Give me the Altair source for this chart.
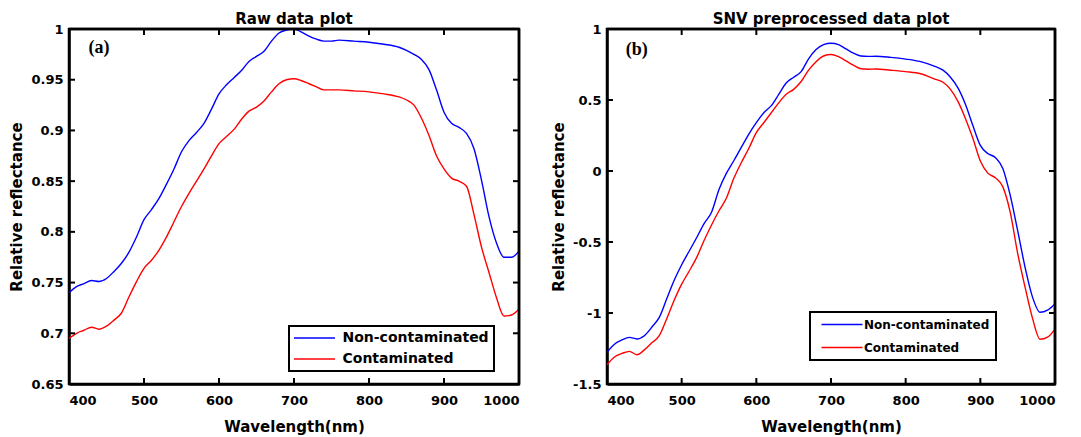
import altair as alt
import pandas as pd

# ---------------- data ----------------
wavelength = [400, 410, 420, 430, 440, 450, 460, 470, 480, 490,
              500, 510, 520, 530, 540, 550, 560, 570, 580, 590,
              600, 610, 620, 630, 640, 650, 660, 670, 680, 690,
              700, 710, 720, 730, 740, 750, 760,
              780, 800, 820, 840,
              850, 860, 870, 880, 890, 900, 910, 920, 930, 940,
              950, 960, 970, 980, 990, 1000]

raw_non = [0.740, 0.746, 0.749, 0.752, 0.751, 0.754, 0.761, 0.769, 0.780, 0.795,
           0.812, 0.822, 0.833, 0.847, 0.862, 0.879, 0.890, 0.898, 0.907, 0.921,
           0.936, 0.945, 0.952, 0.959, 0.968, 0.973, 0.978, 0.988, 0.996, 0.999,
           1.000, 0.997, 0.993, 0.990, 0.988, 0.988, 0.989,
           0.988, 0.987, 0.985, 0.982,
           0.979, 0.975, 0.970, 0.960, 0.940, 0.918, 0.907, 0.903, 0.897, 0.882,
           0.851, 0.815, 0.789, 0.775, 0.775, 0.781]

raw_con = [0.695, 0.700, 0.703, 0.706, 0.704, 0.707, 0.713, 0.720, 0.736, 0.751,
           0.764, 0.772, 0.782, 0.795, 0.810, 0.825, 0.838, 0.850, 0.862, 0.875,
           0.887, 0.894, 0.901, 0.911, 0.919, 0.923, 0.929, 0.938, 0.946, 0.950,
           0.951, 0.949, 0.946, 0.943, 0.940, 0.940, 0.940,
           0.939, 0.938, 0.936, 0.933,
           0.930, 0.925, 0.912, 0.895, 0.875, 0.862, 0.853, 0.850, 0.845, 0.817,
           0.785, 0.760, 0.735, 0.717, 0.718, 0.724]

snv_non = [-1.277, -1.22, -1.19, -1.172, -1.183, -1.16, -1.10, -1.031, -0.90, -0.77,
           -0.66, -0.565, -0.47, -0.37, -0.29, -0.13, -0.015, 0.074, 0.168, 0.26,
           0.34, 0.41, 0.46, 0.54, 0.62, 0.66, 0.70, 0.79, 0.855, 0.89,
           0.90, 0.89, 0.86, 0.83, 0.81, 0.807, 0.808,
           0.80, 0.788, 0.77, 0.735,
           0.71, 0.66, 0.585, 0.47, 0.32, 0.18, 0.123, 0.095, 0.02, -0.17,
           -0.42, -0.68, -0.89, -0.995, -0.98, -0.937]

snv_con = [-1.364, -1.31, -1.285, -1.27, -1.294, -1.26, -1.21, -1.16, -1.04, -0.91,
           -0.797, -0.706, -0.61, -0.49, -0.38, -0.28, -0.19, -0.05, 0.06, 0.16,
           0.27, 0.34, 0.41, 0.48, 0.54, 0.575, 0.63, 0.71, 0.77, 0.81,
           0.82, 0.805, 0.775, 0.745, 0.72, 0.717, 0.718,
           0.71, 0.70, 0.685, 0.645,
           0.625, 0.575, 0.49, 0.37, 0.23, 0.07, -0.015, -0.047, -0.11, -0.29,
           -0.58, -0.82, -1.04, -1.185, -1.17, -1.113]

series_names = ["Non-contaminated", "Contaminated"]
series_colors = ["#0000FF", "#FF0000"]

x_ticks = [400, 500, 600, 700, 800, 900, 1000]
raw_y_ticks = [0.65, 0.7, 0.75, 0.8, 0.85, 0.9, 0.95, 1]
snv_y_ticks = [-1.5, -1, -0.5, 0, 0.5, 1]

panel_titles = ["Raw data plot", "SNV preprocessed data plot"]
panel_tags = ["(a)", "(b)"]
tag_x = [440, 440]
tag_y = [0.981, 0.855]

FONT = "DejaVu Sans"
H = 355
TICK = 6
INK = "black"


def panel(title, tag, tx, ty, non, con, ydom, yticks, W, leg):
    n = len(wavelength)
    df = pd.DataFrame({
        "Wavelength": wavelength + wavelength,
        "value": non + con,
        "series": [series_names[0]] * n + [series_names[1]] * n,
    })
    xs = alt.Scale(domain=[400, 1000], nice=False, zero=False)
    ys = alt.Scale(domain=ydom, nice=False, zero=False)

    legend = alt.Legend(
        title=None, orient="none", legendX=leg["x"], legendY=leg["y"],
        direction="vertical",
        symbolType=leg["path"], symbolSize=leg["size"],
        symbolStrokeWidth=1.5, symbolOffset=leg["so"],
        labelOffset=leg["lo"], labelFont=FONT, labelFontSize=leg["fs"],
        labelFontWeight="bold", labelColor="black",
        rowPadding=leg["rp"], padding=leg["pad"],
        strokeColor="black", fillColor="white",
    )

    lines = alt.Chart(df).mark_line(strokeWidth=1.4, interpolate="monotone").encode(
        x=alt.X("Wavelength:Q", scale=xs,
                axis=alt.Axis(title="Wavelength(nm)", values=x_ticks, ticks=False,
                              domain=True, domainColor=INK, domainWidth=2.5,
                              grid=False, labelPadding=10,
                              titlePadding=12, labelExpr="'' + datum.value")),
        y=alt.Y("value:Q", scale=ys,
                axis=alt.Axis(title="Relative reflectance", values=yticks, ticks=False,
                              domain=True, domainColor=INK, domainWidth=2.5,
                              grid=False, labelPadding=6,
                              titlePadding=6, labelExpr="'' + datum.value")),
        color=alt.Color("series:N",
                        scale=alt.Scale(domain=series_names, range=series_colors),
                        sort=series_names, legend=legend),
    )

    tag_df = pd.DataFrame({"x": [tx], "y": [ty], "t": [tag]})
    tag_layer = alt.Chart(tag_df).mark_text(
        font="Liberation Serif", fontWeight="bold", fontSize=18, color="black"
    ).encode(
        x=alt.X("x:Q", scale=xs),
        y=alt.Y("y:Q", scale=ys),
        text="t:N",
    )

    # top and right frame edges from the scale domains
    edge_df = pd.DataFrame({"x0": [400], "x1": [1000], "y0": [ydom[0]], "y1": [ydom[1]]})
    top_edge = alt.Chart(edge_df).mark_rule(color=INK, strokeWidth=2.5).encode(
        x=alt.X("x0:Q", scale=xs), x2="x1:Q", y=alt.Y("y1:Q", scale=ys))
    right_edge = alt.Chart(edge_df).mark_rule(color=INK, strokeWidth=2.5).encode(
        x=alt.X("x1:Q", scale=xs), y=alt.Y("y0:Q", scale=ys), y2="y1:Q")

    # inward tick marks on all four sides, placed by the scales
    xt = pd.DataFrame({"xt": x_ticks})
    yt = pd.DataFrame({"yt": yticks})
    rule = dict(color=INK, strokeWidth=2)
    top_t = alt.Chart(xt).mark_rule(**rule).encode(
        x=alt.X("xt:Q", scale=xs), y=alt.value(0), y2=alt.value(TICK))
    bot_t = alt.Chart(xt).mark_rule(**rule).encode(
        x=alt.X("xt:Q", scale=xs), y=alt.value(H - TICK), y2=alt.value(H))
    left_t = alt.Chart(yt).mark_rule(**rule).encode(
        y=alt.Y("yt:Q", scale=ys), x=alt.value(0), x2=alt.value(TICK))
    right_t = alt.Chart(yt).mark_rule(**rule).encode(
        y=alt.Y("yt:Q", scale=ys), x=alt.value(W - TICK), x2=alt.value(W))

    return alt.layer(lines, tag_layer, top_edge, right_edge,
                     top_t, bot_t, left_t, right_t).properties(
        width=W, height=H,
        title=alt.TitleParams(title, font=FONT, fontSize=15, fontWeight="bold",
                              color="black", anchor="middle", offset=-4),
    )


left_leg = {"x": 220, "y": 297, "path": "M-3.417,0H3.417", "size": 144,
            "so": 13.5, "lo": 21, "fs": 14, "rp": 7, "pad": 5}
right_leg = {"x": 203, "y": 283, "path": "M-4.1,0H4.1", "size": 100,
             "so": 19.5, "lo": 16, "fs": 12, "rp": 11, "pad": 6.5}

left = panel(panel_titles[0], panel_tags[0], tag_x[0], tag_y[0], raw_non, raw_con,
             [0.65, 1.0], raw_y_ticks, 450, left_leg)
right = panel(panel_titles[1], panel_tags[1], tag_x[1], tag_y[1], snv_non, snv_con,
              [-1.5, 1.0], snv_y_ticks, 448, right_leg)

chart = alt.hconcat(left, right, spacing=26).resolve_scale(
    color="independent"
).resolve_legend(color="independent").properties(
    padding={"left": 0, "top": 2, "right": 0, "bottom": 0}
).configure_view(
    stroke=INK, strokeWidth=2.5
).configure_axis(
    labelFont=FONT, labelFontSize=13, labelFontWeight="bold", labelColor="black",
    titleFont=FONT, titleFontSize=15, titleFontWeight="bold", titleColor="black",
).configure_legend(
    strokeWidth=2
)

chart.save("out.html", embed_options={"renderer": "svg", "actions": False})
